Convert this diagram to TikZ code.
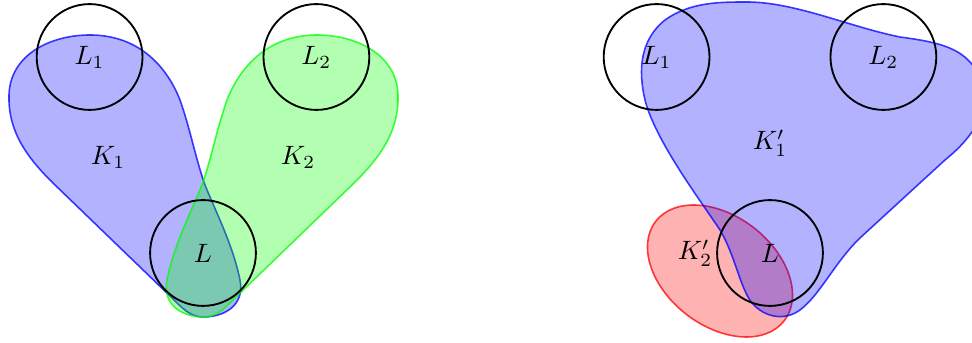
\documentclass[tikz,border=0pt]{standalone}
\begin{document}
\begin{tikzpicture}[x=0.01323cm, y=-0.01323cm,
  region/.style={line width=0.6pt, fill opacity=0.3, draw opacity=0.75},
  ball/.style={circle, draw=black, line width=0.7pt, minimum size=1.4cm, inner sep=0pt}]
\useasboundingbox (0,0) rectangle (972,343);
\clip (0,0) rectangle (972,343);

% ---- left: K_1 and its mirror image K_2 ----
\def\teardrop{
  (203,317) .. controls (190,317) and (182,308) .. (170,296)
  -- (55,185)
  .. controls (25,156) and (8,130) .. (9,95)
  .. controls (10,55) and (50,35) .. (90,35)
  .. controls (135,35) and (165,62) .. (180,100)
  .. controls (190,128) and (196,160) .. (205,185)
  .. controls (215,210) and (233,245) .. (240,280)
  .. controls (245,305) and (225,317) .. (203,317) -- cycle}
\draw[region, draw=blue, fill=blue] \teardrop;
\draw[region, draw=green, fill=green, xscale=-1, xshift=-407*0.01323cm] \teardrop;

\node[ball] (L1) at (89.6,57) {$L_1$};
\node[ball] (L2) at (316.4,57) {$L_2$};
\node[ball] (L)  at (203,253) {$L$};
\node (K1) at (108,157) {$K_1$};
\node (K2) at (298,157) {$K_2$};

% ---- right: K_1' and K_2' ----
\draw[region, draw=red, fill=red, rotate around={-37.7:(720,271)}]
  (720,271) ellipse [x radius=1.075cm, y radius=0.726cm];
\draw[region, draw=blue, fill=blue]
  (747,2) .. controls (795,2) and (850,27) .. (900,37)
  .. controls (945,43) and (975,50) .. (983,90)
  .. controls (988,115) and (970,140) .. (945,160)
  -- (860,238)
  .. controls (835,262) and (820,295) .. (800,310)
  .. controls (785,321) and (765,318) .. (752,303)
  .. controls (740,288) and (735,255) .. (720,230)
  .. controls (700,200) and (655,140) .. (645,100)
  .. controls (638,70) and (640,40) .. (665,20)
  .. controls (690,2) and (720,2) .. (747,2) -- cycle;

\node[ball] (R1) at (656.6,57) {$L_1$};
\node[ball] (R2) at (883.4,57) {$L_2$};
\node[ball] (R)  at (770,253) {$L$};
\node (K1p) at (770,143) {$K_1'$};
\node (K2p) at (695,253) {$K_2'$};
\end{tikzpicture}
\end{document}
